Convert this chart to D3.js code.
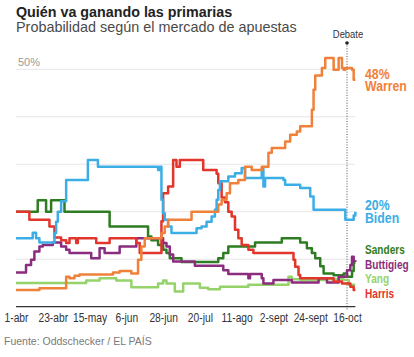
<!DOCTYPE html>
<html>
<head>
<meta charset="utf-8">
<script src="https://cdn.jsdelivr.net/npm/d3@7"></script>
<style>
  html, body { margin: 0; padding: 0; background: #fff; }
  svg { display: block; }
  text { font-family: "Liberation Sans", Arial, sans-serif; }
</style>
</head>
<body>
<svg id="chart" width="414" height="357"></svg>
<script>
// ---------- DATA ----------
const tickDates  = ["2019-04-01","2019-04-23","2019-05-15","2019-06-06","2019-06-28","2019-07-20","2019-08-11","2019-09-02","2019-09-24","2019-10-16"];
const tickLabels = ["1-abr","23-abr","15-may","6-jun","28-jun","20-jul","11-ago","2-sept","24-sept","16-oct"];
const gridValues = [10, 20, 30, 40, 50];
const debateDate = "2019-10-16";

const warren = [
  ["2019-04-01",3.5],["2019-04-15",3.9],["2019-05-01",6.3],["2019-05-03",6.0],["2019-05-06",6.5],
  ["2019-05-09",6.8],["2019-05-29",7.2],["2019-06-02",7.5],["2019-06-09",7.0],["2019-06-13",9.9],
  ["2019-06-15",12.7],["2019-06-17",14.4],["2019-06-27",15.5],["2019-06-29",16.9],["2019-07-01",18.3],
  ["2019-07-15",20.0],["2019-07-31",21.5],["2019-08-02",22.5],["2019-08-05",23.9],["2019-08-07",26.0],
  ["2019-08-12",26.7],["2019-08-16",29.5],["2019-08-20",28.8],["2019-08-26",29.5],["2019-08-30",32.4],
  ["2019-09-01",33.4],["2019-09-09",34.8],["2019-09-12",36.2],["2019-09-16",36.9],["2019-09-18",38.0],
  ["2019-09-25",41.5],["2019-09-26",45.7],["2019-09-27",48.7],["2019-10-01",50.3],["2019-10-03",52.4],
  ["2019-10-08",49.9],["2019-10-11",52.4],["2019-10-13",50.3],["2019-10-14",49.9],["2019-10-15",50.3],
  ["2019-10-19",49.9],["2019-10-20",47.8],["2019-10-21",47.8]
];
const biden = [
  ["2019-04-01",14.4],["2019-04-11",15.6],["2019-04-13",14.4],["2019-04-15",13.5],["2019-04-24",15.5],
  ["2019-04-25",17.9],["2019-04-26",20.0],["2019-04-28",22.2],["2019-05-01",26.7],["2019-05-14",30.9],
  ["2019-05-20",29.5],["2019-06-25",28.8],["2019-06-26",29.5],["2019-06-27",22.5],["2019-06-28",19.7],
  ["2019-06-29",18.3],["2019-07-01",16.9],["2019-07-03",15.5],["2019-07-18",16.5],["2019-07-21",16.9],
  ["2019-07-24",17.9],["2019-07-27",19.0],["2019-07-29",20.4],["2019-07-30",22.5],["2019-07-31",24.6],
  ["2019-08-01",26.4],["2019-08-06",27.4],["2019-08-10",28.1],["2019-08-14",29.2],["2019-08-16",27.1],
  ["2019-08-26",29.0],["2019-08-27",25.3],["2019-08-28",27.1],["2019-09-08",26.7],["2019-09-09",25.7],
  ["2019-09-18",25.0],["2019-09-24",23.2],["2019-09-26",20.4],["2019-10-15",18.3],["2019-10-20",19.2],
  ["2019-10-21",20.0]
];
const sanders = [
  ["2019-04-01",20.0],["2019-04-14",22.4],["2019-04-19",20.0],["2019-04-22",22.4],["2019-04-30",20.0],
  ["2019-05-27",16.9],["2019-06-19",14.8],["2019-06-21",14.0],["2019-06-25",13.0],["2019-06-28",12.0],
  ["2019-06-30",11.3],["2019-07-02",10.2],["2019-07-09",9.4],["2019-07-31",10.2],["2019-08-03",11.3],
  ["2019-08-06",12.7],["2019-08-22",13.5],["2019-09-07",14.4],["2019-09-18",13.5],["2019-09-22",12.3],
  ["2019-09-25",11.3],["2019-09-27",10.2],["2019-09-30",8.5],["2019-10-02",7.0],["2019-10-08",6.6],
  ["2019-10-14",7.0],["2019-10-16",6.3],["2019-10-19",7.5],["2019-10-20",9.2],["2019-10-21",9.2]
];
const buttigieg = [
  ["2019-04-01",7.2],["2019-04-07",8.8],["2019-04-10",9.9],["2019-04-12",11.6],["2019-04-15",12.7],
  ["2019-04-17",13.0],["2019-04-23",13.5],["2019-04-28",12.7],["2019-05-01",12.0],["2019-05-03",11.3],
  ["2019-05-16",10.2],["2019-05-21",12.3],["2019-05-24",11.3],["2019-06-02",12.7],["2019-06-12",14.4],
  ["2019-06-28",13.4],["2019-06-30",12.7],["2019-07-02",11.0],["2019-07-04",9.5],["2019-07-17",8.6],
  ["2019-08-03",7.7],["2019-08-06",6.9],["2019-08-18",6.0],["2019-08-19",6.9],["2019-08-26",6.0],
  ["2019-08-27",4.9],["2019-09-02",5.6],["2019-09-13",5.1],["2019-09-29",6.0],["2019-10-04",5.1],
  ["2019-10-11",6.3],["2019-10-16",7.7],["2019-10-18",8.8],["2019-10-19",10.5],["2019-10-20",9.6],
  ["2019-10-21",9.8]
];
const yang = [
  ["2019-04-01",5.0],["2019-05-13",5.5],["2019-05-21",6.0],["2019-05-31",5.5],["2019-06-09",4.1],
  ["2019-06-25",4.9],["2019-06-28",5.5],["2019-06-30",4.9],["2019-07-05",3.2],["2019-07-10",4.9],
  ["2019-07-20",4.0],["2019-07-25",3.7],["2019-08-01",4.2],["2019-08-18",4.6],["2019-09-11",6.3],
  ["2019-09-13",5.8],["2019-09-18",5.6],["2019-10-03",5.8],["2019-10-14",5.6],["2019-10-17",4.6],
  ["2019-10-21",4.6]
];
const harris = [
  ["2019-04-01",20.0],["2019-04-09",18.3],["2019-04-21",16.9],["2019-04-24",14.6],["2019-04-28",14.0],
  ["2019-05-01",13.4],["2019-05-03",14.4],["2019-05-07",13.4],["2019-05-08",14.4],["2019-05-19",13.4],
  ["2019-05-27",14.4],["2019-06-12",13.4],["2019-06-14",11.3],["2019-06-27",18.0],["2019-06-28",23.9],
  ["2019-07-01",25.3],["2019-07-04",30.9],["2019-07-06",29.5],["2019-07-08",30.9],["2019-07-22",28.8],
  ["2019-07-30",28.0],["2019-07-31",26.0],["2019-08-02",23.0],["2019-08-04",22.0],["2019-08-06",20.0],
  ["2019-08-08",19.0],["2019-08-10",16.2],["2019-08-12",14.4],["2019-08-14",13.0],["2019-08-18",12.0],
  ["2019-08-21",11.3],["2019-09-14",9.9],["2019-09-15",8.4],["2019-09-17",6.7],["2019-09-18",6.0],
  ["2019-10-08",5.3],["2019-10-13",4.9],["2019-10-18",4.2],["2019-10-20",3.5],["2019-10-21",3.5]
];

// ---------- STYLES ----------
const colors = {
  yang: "#95d36a", buttigieg: "#8a2d7e", sanders: "#2f7d22",
  harris: "#e2352c", biden: "#3caee6", warren: "#f0813a"
};
const NARROW = 0.82; // horizontal squeeze to mimic a condensed face

// ---------- DRAW ----------
const parse = d3.timeParse("%Y-%m-%d");
const svg = d3.select("#chart");

const x = d3.scaleTime()
  .domain([parse(tickDates[0]), parse(tickDates[tickDates.length - 1])])
  .range([16, 347]);
const y = d3.scaleLinear().domain([0, 50]).range([306.7, 69.3]);
const xEnd = x(parse("2019-10-21"));

function narrowGroup(parent, tx, ty) {
  return parent.append("g").attr("transform", `translate(${tx},${ty}) scale(${NARROW},1)`);
}
function narrowText(parent, tx, ty, str, anchor) {
  return narrowGroup(parent, tx, ty)
    .append("text").attr("text-anchor", anchor || "start").text(str);
}

// title
svg.append("text").attr("x", 16).attr("y", 17)
  .attr("font-weight", "bold").attr("font-size", 14.3).attr("fill", "#222")
  .text("Quién va ganando las primarias");
svg.append("text").attr("x", 16).attr("y", 32)
  .attr("font-size", 14.4).attr("fill", "#4a4a4a")
  .text("Probabilidad según el mercado de apuestas");

// gridlines
svg.append("g").selectAll("line").data(gridValues).join("line")
  .attr("x1", 16).attr("x2", xEnd)
  .attr("y1", d => y(d)).attr("y2", d => y(d))
  .attr("stroke", "#e6e6e6").attr("stroke-width", 1);

svg.append("text").attr("x", 18).attr("y", y(50) - 3.5)
  .attr("font-size", 11).attr("fill", "#9a9a9a")
  .text("50%");

// debate marker
const xd = x(parse(debateDate));
svg.append("line").attr("x1", xd).attr("x2", xd).attr("y1", 43).attr("y2", 310)
  .attr("stroke", "#555").attr("stroke-width", 1).attr("stroke-dasharray", "1,1.6");
svg.append("circle").attr("cx", xd).attr("cy", 43).attr("r", 1.8).attr("fill", "#222");
narrowText(svg, xd + 1, 38, "Debate", "middle")
  .attr("font-size", 11.5).attr("fill", "#333");

// lines
const line = d3.line()
  .x(d => x(parse(d[0])))
  .y(d => y(d[1]))
  .curve(d3.curveStepAfter);

const order = [
  ["yang", yang], ["sanders", sanders], ["buttigieg", buttigieg],
  ["harris", harris], ["biden", biden], ["warren", warren]
];
svg.append("g").selectAll("path").data(order).join("path")
  .attr("d", d => line(d[1]))
  .attr("fill", "none")
  .attr("stroke", d => colors[d[0]])
  .attr("stroke-width", 2.5)
  .attr("stroke-linejoin", "round");

// x axis
svg.append("line").attr("x1", 16).attr("x2", xEnd).attr("y1", y(0)).attr("y2", y(0))
  .attr("stroke", "#333").attr("stroke-width", 1.3);
const axis = d3.axisBottom(x)
  .tickValues(tickDates.map(parse))
  .tickFormat((d, i) => tickLabels[i])
  .tickSize(0).tickPadding(6.3);
const ax = svg.append("g").attr("transform", `translate(0,${y(0)})`).call(axis);
ax.select(".domain").remove();
ax.selectAll("text")
  .attr("font-family", "'Liberation Sans', Arial, sans-serif")
  .attr("font-size", 12.5).attr("fill", "#333")
  .attr("transform", `scale(${NARROW},1)`);

// end labels (value + name in one text block)
const labelX = 365;
const bigLabels = [
  ["48%", "Warren", 78.5, "warren"],
  ["20%", "Biden", 210, "biden"]
];
bigLabels.forEach(d => {
  const t = narrowGroup(svg, labelX, d[2]).append("text")
    .attr("font-weight", "bold").attr("font-size", 15).attr("fill", colors[d[3]]);
  t.append("tspan").attr("x", 0).attr("dy", 0).text(d[0]);
  t.append("tspan").attr("x", 0).attr("dy", 12.5).text(d[1]);
});
const smallLabels = [
  ["Sanders", 254, "sanders"], ["Buttigieg", 268.5, "buttigieg"],
  ["Yang", 283, "yang"], ["Harris", 298, "harris"]
];
smallLabels.forEach(d => {
  narrowText(svg, labelX, d[1], d[0]).attr("font-weight", "bold")
    .attr("font-size", 12.3).attr("fill", colors[d[2]]);
});

// source
svg.append("text").attr("x", 4).attr("y", 345)
  .attr("font-size", 10.5).attr("fill", "#7a7a7a")
  .text("Fuente: Oddschecker / EL PAÍS");
</script>
</body>
</html>
